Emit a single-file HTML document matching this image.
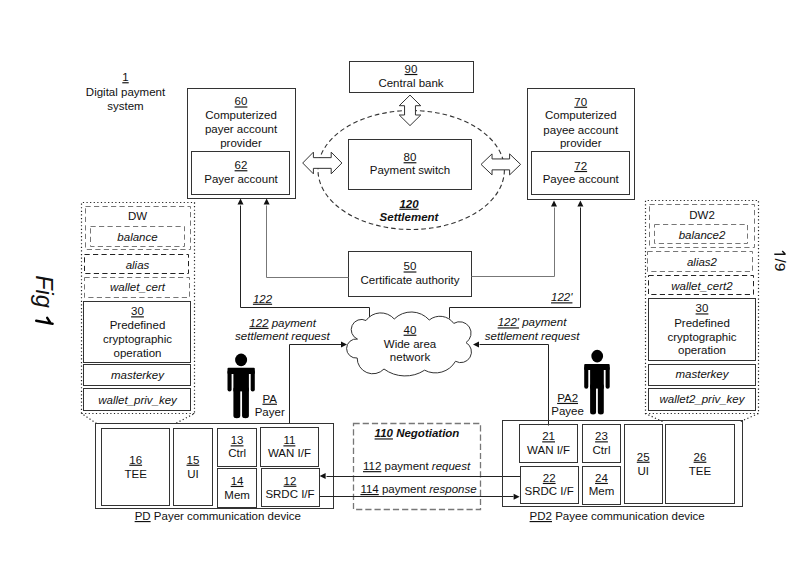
<!DOCTYPE html>
<html><head><meta charset="utf-8"><style>
html,body{margin:0;padding:0;background:#fff;}
svg{display:block;}
text{font-family:"Liberation Sans",sans-serif;fill:#111;}
.i{font-style:italic;}
.bi{font-style:italic;font-weight:bold;}
</style></head><body>
<svg width="800" height="562" viewBox="0 0 800 562">
<rect x="0" y="0" width="800" height="562" fill="#fff"/>
<text x="125.50" y="81.20" font-size="11.5" text-anchor="middle"><tspan text-decoration="underline">1</tspan></text>
<text x="125.50" y="95.70" font-size="11.5" text-anchor="middle">Digital payment</text>
<text x="125.50" y="109.70" font-size="11.5" text-anchor="middle">system</text>
<rect x="187.50" y="88.50" width="108.00" height="110.00" fill="none" stroke="#333" stroke-width="1.0"/>
<rect x="191.50" y="151.50" width="98.00" height="43.00" fill="none" stroke="#333" stroke-width="1.0"/>
<text x="241.00" y="105.45" font-size="11.5" text-anchor="middle"><tspan text-decoration="underline">60</tspan></text>
<text x="241.00" y="119.20" font-size="11.5" text-anchor="middle">Computerized</text>
<text x="241.00" y="132.70" font-size="11.5" text-anchor="middle">payer account</text>
<text x="241.00" y="146.70" font-size="11.5" text-anchor="middle">provider</text>
<text x="241.00" y="169.20" font-size="11.5" text-anchor="middle"><tspan text-decoration="underline">62</tspan></text>
<text x="241.00" y="183.20" font-size="11.5" text-anchor="middle">Payer account</text>
<rect x="349.50" y="61.50" width="124.00" height="31.00" fill="none" stroke="#333" stroke-width="1.0"/>
<text x="411.00" y="72.95" font-size="11.5" text-anchor="middle"><tspan text-decoration="underline">90</tspan></text>
<text x="411.00" y="86.70" font-size="11.5" text-anchor="middle">Central bank</text>
<rect x="348.50" y="139.50" width="123.00" height="50.00" fill="none" stroke="#333" stroke-width="1.0"/>
<text x="410.00" y="161.20" font-size="11.5" text-anchor="middle"><tspan text-decoration="underline">80</tspan></text>
<text x="410.00" y="174.45" font-size="11.5" text-anchor="middle">Payment switch</text>
<ellipse cx="411.2" cy="170" rx="93.2" ry="59.5" fill="none" stroke="#333" stroke-width="1.1" stroke-dasharray="4.6 3"/>
<polygon points="410.00,95.10 420.75,105.70 415.45,105.70 415.45,115.00 420.75,115.00 410.00,125.60 399.25,115.00 404.55,115.00 404.55,105.70 399.25,105.70" fill="#fff" stroke="#333" stroke-width="1.0"/>
<polygon points="302.70,163.00 313.40,152.15 313.40,157.65 331.20,157.65 331.20,152.15 341.90,163.00 331.20,173.85 331.20,168.35 313.40,168.35 313.40,173.85" fill="#fff" stroke="#333" stroke-width="1.0" stroke-linejoin="miter"/>
<polygon points="481.05,164.40 492.05,153.90 492.05,158.95 509.60,158.95 509.60,153.90 520.60,164.40 509.60,174.90 509.60,169.85 492.05,169.85 492.05,174.90" fill="#fff" stroke="#333" stroke-width="1.0" stroke-linejoin="miter"/>
<text x="409.00" y="207.70" font-size="11.5" text-anchor="middle" class="bi"><tspan text-decoration="underline">120</tspan></text>
<text x="409.00" y="220.70" font-size="11.5" text-anchor="middle" class="bi">Settlement</text>
<rect x="527.50" y="88.50" width="107.00" height="111.00" fill="none" stroke="#333" stroke-width="1.0"/>
<rect x="531.50" y="151.50" width="98.00" height="43.00" fill="none" stroke="#333" stroke-width="1.0"/>
<text x="580.75" y="105.70" font-size="11.5" text-anchor="middle"><tspan text-decoration="underline">70</tspan></text>
<text x="580.75" y="119.45" font-size="11.5" text-anchor="middle">Computerized</text>
<text x="580.75" y="133.70" font-size="11.5" text-anchor="middle">payee account</text>
<text x="580.75" y="147.45" font-size="11.5" text-anchor="middle">provider</text>
<text x="580.75" y="169.95" font-size="11.5" text-anchor="middle"><tspan text-decoration="underline">72</tspan></text>
<text x="580.75" y="183.45" font-size="11.5" text-anchor="middle">Payee account</text>
<rect x="348.50" y="251.50" width="123.00" height="45.00" fill="none" stroke="#333" stroke-width="1.0"/>
<text x="410.00" y="270.45" font-size="11.5" text-anchor="middle"><tspan text-decoration="underline">50</tspan></text>
<text x="410.00" y="283.70" font-size="11.5" text-anchor="middle">Certificate authority</text>
<polyline points="348.50,277.50 266.50,277.50 266.50,205.50" fill="none" stroke="#777" stroke-width="1.0"/>
<polygon points="266.60,198.50 263.60,204.50 269.60,204.50" fill="#111"/>
<polyline points="369.50,317.50 369.50,307.50 240.50,307.50 240.50,205.50" fill="none" stroke="#222" stroke-width="1.0"/>
<polygon points="240.50,198.50 237.50,204.50 243.50,204.50" fill="#111"/>
<polyline points="471.50,276.50 554.50,276.50 554.50,207.50" fill="none" stroke="#777" stroke-width="1.0"/>
<polygon points="554.00,200.50 551.00,206.50 557.00,206.50" fill="#111"/>
<polyline points="449.50,318.50 449.50,307.50 580.50,307.50 580.50,207.50" fill="none" stroke="#222" stroke-width="1.0"/>
<polygon points="580.40,200.50 577.40,206.50 583.40,206.50" fill="#111"/>
<text x="262.50" y="302.70" font-size="11.5" text-anchor="middle" class="i"><tspan text-decoration="underline">122</tspan></text>
<text x="561.75" y="301.30" font-size="11.5" text-anchor="middle" class="i"><tspan text-decoration="underline">122'</tspan></text>
<text x="282.60" y="326.80" font-size="11.5" text-anchor="middle" class="i"><tspan text-decoration="underline">122</tspan> payment</text>
<text x="282.40" y="340.00" font-size="11.5" text-anchor="middle" class="i">settlement request</text>
<text x="532.00" y="326.40" font-size="11.5" text-anchor="middle" class="i"><tspan text-decoration="underline">122'</tspan> payment</text>
<text x="532.15" y="340.10" font-size="11.5" text-anchor="middle" class="i">settlement request</text>
<path d="M357.50,339.10 A10.23,10.23 0 1 1 366.00,320.50 A18.05,18.05 0 0 1 394.25,319.00 A24.17,24.17 0 0 1 429.25,320.00 A17.04,17.04 0 0 1 453.75,323.40 A11.39,11.39 0 0 1 466.00,342.60 A10.70,10.70 0 0 1 455.50,361.25 A23.06,23.06 0 0 1 424.60,370.20 A35.78,35.78 0 0 1 384.00,369.00 A15.58,15.58 0 0 1 357.20,358.00 A9.53,9.53 0 1 1 357.50,339.10 Z" fill="#fff" stroke="#333" stroke-width="1"/>
<text x="410.00" y="333.70" font-size="11.5" text-anchor="middle"><tspan text-decoration="underline">40</tspan></text>
<text x="410.00" y="347.70" font-size="11.5" text-anchor="middle">Wide area</text>
<text x="410.00" y="361.30" font-size="11.5" text-anchor="middle">network</text>
<polyline points="289.50,423.50 289.50,344.50 341.50,344.50" fill="none" stroke="#222" stroke-width="1.0"/>
<polygon points="347.00,344.40 341.00,341.40 341.00,347.40" fill="#111"/>
<polyline points="548.50,425.50 548.50,344.50 479.50,344.50" fill="none" stroke="#222" stroke-width="1.0"/>
<polygon points="473.00,344.60 479.00,341.60 479.00,347.60" fill="#111"/>
<ellipse cx="241.10" cy="359.90" rx="6.0" ry="6.3" fill="#000"/>
<rect x="227.50" y="367.70" width="27.30" height="6.20" rx="1" fill="#000"/>
<rect x="227.50" y="369.70" width="4.10" height="21.90" rx="2.05" fill="#000"/>
<rect x="250.70" y="369.70" width="4.10" height="21.90" rx="2.05" fill="#000"/>
<rect x="233.40" y="368.70" width="15.50" height="22.70" fill="#000"/>
<rect x="233.40" y="386.40" width="6.85" height="31.90" rx="3.42" ry="2.5" fill="#000"/>
<rect x="242.05" y="386.40" width="6.85" height="31.90" rx="3.42" ry="2.5" fill="#000"/>
<ellipse cx="597.20" cy="356.10" rx="5.9" ry="6.3" fill="#000"/>
<rect x="584.20" y="363.90" width="25.50" height="6.20" rx="1" fill="#000"/>
<rect x="584.20" y="365.90" width="4.10" height="22.80" rx="2.05" fill="#000"/>
<rect x="605.60" y="365.90" width="4.10" height="22.80" rx="2.05" fill="#000"/>
<rect x="590.10" y="364.90" width="13.70" height="23.70" fill="#000"/>
<rect x="590.10" y="383.60" width="5.95" height="30.80" rx="2.98" ry="2.5" fill="#000"/>
<rect x="597.85" y="383.60" width="5.95" height="30.80" rx="2.98" ry="2.5" fill="#000"/>
<text x="269.70" y="402.70" font-size="11.5" text-anchor="middle"><tspan text-decoration="underline">PA</tspan></text>
<text x="269.70" y="416.30" font-size="11.5" text-anchor="middle">Payer</text>
<text x="567.60" y="401.90" font-size="11.5" text-anchor="middle"><tspan text-decoration="underline">PA2</tspan></text>
<text x="567.60" y="415.30" font-size="11.5" text-anchor="middle">Payee</text>
<polyline points="96.50,423.50 81.50,413.50 81.50,202.50 194.50,202.50 194.50,413.50 175.50,423.50" fill="none" stroke="#222" stroke-width="1.2" stroke-dasharray="1.2 2.4"/>
<polyline points="81.50,413.50 194.50,413.50" fill="none" stroke="#222" stroke-width="1.2" stroke-dasharray="1.2 2.4"/>
<rect x="85.50" y="206.50" width="105.00" height="43.00" fill="none" stroke="#777" stroke-width="1.0" stroke-dasharray="5.2 3.3"/>
<rect x="90.50" y="226.50" width="94.00" height="20.00" fill="none" stroke="#777" stroke-width="1.0" stroke-dasharray="5.2 3.3"/>
<rect x="84.50" y="254.50" width="104.00" height="19.00" fill="none" stroke="#222" stroke-width="1.0" stroke-dasharray="5.2 3.3"/>
<rect x="84.50" y="277.50" width="105.00" height="20.00" fill="none" stroke="#777" stroke-width="1.0" stroke-dasharray="5.2 3.3"/>
<rect x="83.50" y="301.50" width="107.00" height="61.00" fill="none" stroke="#333" stroke-width="1.0"/>
<rect x="83.50" y="364.50" width="107.00" height="21.00" fill="none" stroke="#333" stroke-width="1.0"/>
<rect x="83.50" y="388.50" width="107.00" height="22.00" fill="none" stroke="#333" stroke-width="1.0"/>
<text x="137.50" y="220.40" font-size="11.5" text-anchor="middle">DW</text>
<text x="137.50" y="241.30" font-size="11.5" text-anchor="middle" class="i">balance</text>
<text x="137.50" y="268.50" font-size="11.5" text-anchor="middle" class="i">alias</text>
<text x="137.50" y="291.30" font-size="11.5" text-anchor="middle" class="i">wallet_cert</text>
<text x="137.50" y="315.30" font-size="11.5" text-anchor="middle"><tspan text-decoration="underline">30</tspan></text>
<text x="137.50" y="328.90" font-size="11.5" text-anchor="middle">Predefined</text>
<text x="137.50" y="343.10" font-size="11.5" text-anchor="middle">cryptographic</text>
<text x="137.50" y="356.50" font-size="11.5" text-anchor="middle">operation</text>
<text x="137.50" y="378.50" font-size="11.5" text-anchor="middle" class="i">masterkey</text>
<text x="137.50" y="403.90" font-size="11.5" text-anchor="middle" class="i">wallet_priv_key</text>
<polyline points="662.50,421.50 645.50,413.50 645.50,200.50 758.50,200.50 758.50,413.50 740.50,421.50" fill="none" stroke="#222" stroke-width="1.2" stroke-dasharray="1.2 2.4"/>
<polyline points="645.50,413.50 758.50,413.50" fill="none" stroke="#222" stroke-width="1.2" stroke-dasharray="1.2 2.4"/>
<rect x="649.50" y="204.50" width="105.00" height="43.00" fill="none" stroke="#777" stroke-width="1.0" stroke-dasharray="5.2 3.3"/>
<rect x="654.50" y="224.50" width="93.00" height="19.00" fill="none" stroke="#777" stroke-width="1.0" stroke-dasharray="5.2 3.3"/>
<rect x="647.50" y="251.50" width="105.00" height="20.00" fill="none" stroke="#777" stroke-width="1.0" stroke-dasharray="5.2 3.3"/>
<rect x="648.50" y="275.50" width="105.00" height="19.00" fill="none" stroke="#222" stroke-width="1.0" stroke-dasharray="5.2 3.3"/>
<rect x="648.50" y="298.50" width="107.00" height="62.00" fill="none" stroke="#333" stroke-width="1.0"/>
<rect x="648.50" y="364.50" width="107.00" height="21.00" fill="none" stroke="#333" stroke-width="1.0"/>
<rect x="648.50" y="388.50" width="107.00" height="22.00" fill="none" stroke="#333" stroke-width="1.0"/>
<text x="702.00" y="218.90" font-size="11.5" text-anchor="middle">DW2</text>
<text x="702.00" y="239.00" font-size="11.5" text-anchor="middle" class="i">balance2</text>
<text x="702.00" y="266.30" font-size="11.5" text-anchor="middle" class="i">alias2</text>
<text x="702.00" y="289.80" font-size="11.5" text-anchor="middle" class="i">wallet_cert2</text>
<text x="702.00" y="312.40" font-size="11.5" text-anchor="middle"><tspan text-decoration="underline">30</tspan></text>
<text x="702.00" y="326.60" font-size="11.5" text-anchor="middle">Predefined</text>
<text x="702.00" y="341.10" font-size="11.5" text-anchor="middle">cryptographic</text>
<text x="702.00" y="354.00" font-size="11.5" text-anchor="middle">operation</text>
<text x="702.00" y="378.40" font-size="11.5" text-anchor="middle" class="i">masterkey</text>
<text x="702.00" y="402.60" font-size="11.5" text-anchor="middle" class="i">wallet2_priv_key</text>
<rect x="95.50" y="423.50" width="238.00" height="85.00" fill="none" stroke="#333" stroke-width="1.0"/>
<rect x="101.50" y="428.50" width="68.00" height="77.00" fill="none" stroke="#333" stroke-width="1.0"/>
<rect x="173.50" y="428.50" width="39.00" height="77.00" fill="none" stroke="#333" stroke-width="1.0"/>
<rect x="217.50" y="428.50" width="39.00" height="38.00" fill="none" stroke="#333" stroke-width="1.0"/>
<rect x="260.50" y="427.50" width="58.00" height="39.00" fill="none" stroke="#333" stroke-width="1.0"/>
<rect x="217.50" y="468.50" width="39.00" height="39.00" fill="none" stroke="#333" stroke-width="1.0"/>
<rect x="261.50" y="468.50" width="58.00" height="38.00" fill="none" stroke="#333" stroke-width="1.0"/>
<text x="135.70" y="463.70" font-size="11.5" text-anchor="middle"><tspan text-decoration="underline">16</tspan></text>
<text x="135.70" y="477.50" font-size="11.5" text-anchor="middle">TEE</text>
<text x="192.90" y="463.70" font-size="11.5" text-anchor="middle"><tspan text-decoration="underline">15</tspan></text>
<text x="192.90" y="477.50" font-size="11.5" text-anchor="middle">UI</text>
<text x="237.10" y="444.30" font-size="11.5" text-anchor="middle"><tspan text-decoration="underline">13</tspan></text>
<text x="237.10" y="456.70" font-size="11.5" text-anchor="middle">Ctrl</text>
<text x="289.40" y="444.30" font-size="11.5" text-anchor="middle"><tspan text-decoration="underline">11</tspan></text>
<text x="289.40" y="456.70" font-size="11.5" text-anchor="middle">WAN I/F</text>
<text x="237.10" y="484.90" font-size="11.5" text-anchor="middle"><tspan text-decoration="underline">14</tspan></text>
<text x="237.10" y="498.60" font-size="11.5" text-anchor="middle">Mem</text>
<text x="290.00" y="484.70" font-size="11.5" text-anchor="middle"><tspan text-decoration="underline">12</tspan></text>
<text x="290.00" y="498.10" font-size="11.5" text-anchor="middle">SRDC I/F</text>
<text x="217.75" y="520.00" font-size="11.5" text-anchor="middle"><tspan text-decoration="underline">PD</tspan> Payer communication device</text>
<rect x="353.50" y="423.50" width="127.00" height="86.00" fill="none" stroke="#777" stroke-width="1.3" stroke-dasharray="6.2 3"/>
<text x="417.00" y="437.40" font-size="11.5" text-anchor="middle" class="bi"><tspan text-decoration="underline">110</tspan> Negotiation</text>
<text x="416.60" y="470.10" font-size="11.5" text-anchor="middle"><tspan text-decoration="underline">112</tspan> payment <tspan font-style="italic">request</tspan></text>
<text x="418.50" y="493.00" font-size="11.5" text-anchor="middle"><tspan text-decoration="underline">114</tspan> payment <tspan font-style="italic">response</tspan></text>
<polyline points="520.50,476.50 326.50,476.50" fill="none" stroke="#222" stroke-width="1.0"/>
<polygon points="319.60,476.00 325.60,473.00 325.60,479.00" fill="#111"/>
<polyline points="319.50,496.50 513.50,496.50" fill="none" stroke="#222" stroke-width="1.0"/>
<polygon points="519.60,496.70 513.60,493.70 513.60,499.70" fill="#111"/>
<rect x="502.50" y="420.50" width="240.00" height="86.00" fill="none" stroke="#333" stroke-width="1.0"/>
<rect x="519.50" y="424.50" width="58.00" height="38.00" fill="none" stroke="#333" stroke-width="1.0"/>
<rect x="520.50" y="466.50" width="58.00" height="37.00" fill="none" stroke="#333" stroke-width="1.0"/>
<rect x="582.50" y="424.50" width="38.00" height="38.00" fill="none" stroke="#333" stroke-width="1.0"/>
<rect x="582.50" y="466.50" width="38.00" height="38.00" fill="none" stroke="#333" stroke-width="1.0"/>
<rect x="624.50" y="424.50" width="38.00" height="79.00" fill="none" stroke="#333" stroke-width="1.0"/>
<rect x="665.50" y="424.50" width="69.00" height="79.00" fill="none" stroke="#333" stroke-width="1.0"/>
<text x="548.60" y="440.30" font-size="11.5" text-anchor="middle"><tspan text-decoration="underline">21</tspan></text>
<text x="548.60" y="454.30" font-size="11.5" text-anchor="middle">WAN I/F</text>
<text x="549.20" y="481.90" font-size="11.5" text-anchor="middle"><tspan text-decoration="underline">22</tspan></text>
<text x="549.20" y="494.90" font-size="11.5" text-anchor="middle">SRDC I/F</text>
<text x="601.50" y="440.30" font-size="11.5" text-anchor="middle"><tspan text-decoration="underline">23</tspan></text>
<text x="601.50" y="454.30" font-size="11.5" text-anchor="middle">Ctrl</text>
<text x="601.50" y="481.90" font-size="11.5" text-anchor="middle"><tspan text-decoration="underline">24</tspan></text>
<text x="601.50" y="494.90" font-size="11.5" text-anchor="middle">Mem</text>
<text x="643.20" y="460.70" font-size="11.5" text-anchor="middle"><tspan text-decoration="underline">25</tspan></text>
<text x="643.20" y="474.50" font-size="11.5" text-anchor="middle">UI</text>
<text x="700.00" y="460.70" font-size="11.5" text-anchor="middle"><tspan text-decoration="underline">26</tspan></text>
<text x="700.00" y="474.50" font-size="11.5" text-anchor="middle">TEE</text>
<text x="617.20" y="520.00" font-size="11.5" text-anchor="middle"><tspan text-decoration="underline">PD2</tspan> Payee communication device</text>
<text x="-26.1" y="0" font-size="23.5" font-style="italic" text-anchor="start" transform="translate(36,301.3) rotate(90)">Fig</text>
<path d="M36.2,320.7 L52.6,323.8 M47.2,317.8 L50.6,323.2" stroke="#000" stroke-width="2.4" stroke-linecap="round" fill="none"/>
<text x="-2.17" y="0" font-size="15.5" text-anchor="start" transform="translate(774.5,260.6) rotate(90)">/9</text>
<path d="M774.3,254.2 L785.6,254.2 M785.2,254.0 L782.2,250.9" stroke="#111" stroke-width="1.5" fill="none"/>
</svg>
</body></html>
